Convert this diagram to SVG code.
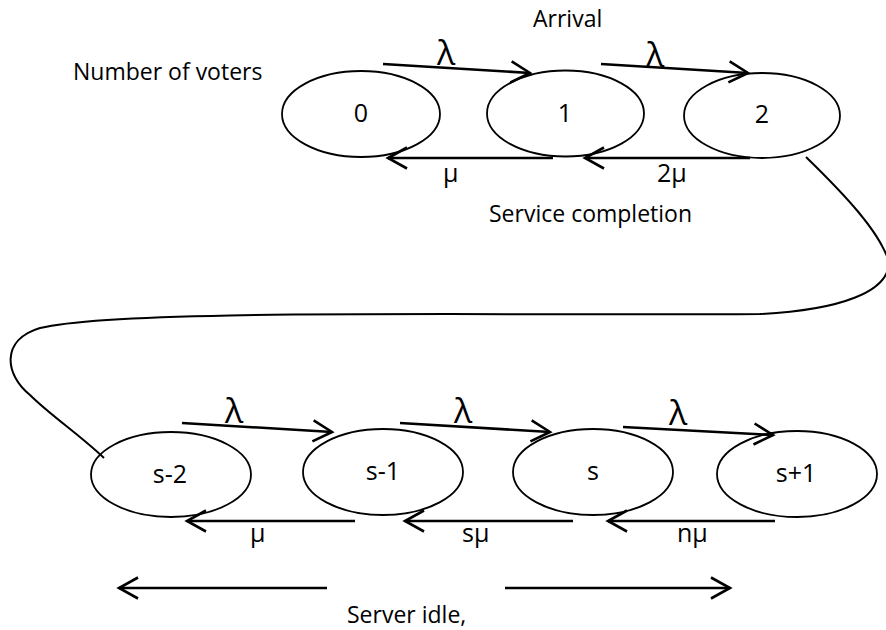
<svg xmlns="http://www.w3.org/2000/svg" width="886" height="630" viewBox="0 0 886 630">
  <style>
    .node ellipse { fill: #fff; stroke: #000; stroke-width: 1.8; }
    .node text { font-family: "Open Sans", "Liberation Sans", sans-serif; font-size: 25px; text-anchor: middle; fill: #000; }
    .edge { stroke: #000; stroke-width: 2.6; fill: none; marker-end: url(#open); }
    .link { stroke: #000; stroke-width: 2; fill: none; }
    .lbl { font-family: "Open Sans", "Liberation Sans", sans-serif; font-size: 23px; fill: #000; }
    .rate { font-family: "Open Sans", "Liberation Sans", sans-serif; font-size: 25px; fill: #000; }
    .lam { font-family: "Open Sans", "Liberation Sans", sans-serif; font-size: 34px; fill: #000; }
  </style>
  <defs>
    <marker id="open" viewBox="0 0 24 26" refX="21" refY="13" markerWidth="24" markerHeight="26" orient="auto" markerUnits="userSpaceOnUse" overflow="visible">
      <path d="M2,2.5 L21,13 L2,23.5" fill="none" stroke="#000" stroke-width="2.6"/>
    </marker>
  </defs>

  <rect width="886" height="630" fill="#fff"/>

  <!-- captions -->
  <text class="lbl" x="533" y="27">Arrival</text>
  <text class="lbl" x="73" y="80">Number of voters</text>
  <text class="lbl" x="489" y="222">Service completion</text>
  <text class="lbl" x="347" y="623">Server idle,</text>

  <!-- states, top row -->
  <g id="n0" class="node"><ellipse cx="361" cy="114" rx="79" ry="43"/><text x="361" y="122">0</text></g>
  <g id="n1" class="node"><ellipse cx="565.5" cy="113.5" rx="78.5" ry="43"/><text x="565" y="122">1</text></g>
  <g id="n2" class="node"><ellipse cx="762" cy="115.5" rx="78" ry="42.5"/><text x="762" y="123">2</text></g>

  <!-- states, bottom row -->
  <g id="ns2" class="node"><ellipse cx="171" cy="474.5" rx="80" ry="42.5"/><text x="170" y="483">s-2</text></g>
  <g id="ns1" class="node"><ellipse cx="383" cy="472" rx="80" ry="43"/><text x="383" y="480">s-1</text></g>
  <g id="ns" class="node"><ellipse cx="593" cy="472" rx="80" ry="43"/><text x="593" y="480">s</text></g>
  <g id="ns+1" class="node"><ellipse cx="797" cy="474" rx="80" ry="43"/><text x="796" y="482">s+1</text></g>

  <!-- transitions -->
  <g id="connectors">
    <!-- arrivals -->
    <line class="edge" x1="383" y1="64" x2="530" y2="73"/>
    <line class="edge" x1="601" y1="64" x2="748" y2="73"/>
    <line class="edge" x1="182" y1="423" x2="332" y2="432"/>
    <line class="edge" x1="400" y1="423" x2="550" y2="432"/>
    <line class="edge" x1="623" y1="427" x2="773" y2="435"/>
    <!-- departures -->
    <line class="edge" x1="553" y1="158" x2="388" y2="158"/>
    <line class="edge" x1="750" y1="158" x2="585" y2="158"/>
    <line class="edge" x1="355" y1="521" x2="187" y2="521"/>
    <line class="edge" x1="573" y1="521" x2="405" y2="521"/>
    <line class="edge" x1="775" y1="521" x2="608" y2="521"/>
    <!-- idle span arrows -->
    <line class="edge" x1="327" y1="588" x2="119" y2="588"/>
    <line class="edge" x1="505" y1="588" x2="730" y2="588"/>
    <!-- continuation from state 2 to state s-2 -->
    <path class="link" d="M806,157 C845,195 880,232 889,262 C889,292 840,310 760,314 C500,316 120,308 40,328 C0,340 5,375 30,395 C50,415 80,435 104,458"/>
  </g>

  <!-- rate labels -->
  <text class="lam" x="437" y="65">λ</text>
  <text class="lam" x="646" y="67">λ</text>
  <text class="lam" x="225" y="423">λ</text>
  <text class="lam" x="454" y="423">λ</text>
  <text class="lam" x="669" y="425">λ</text>
  <text class="rate" x="443" y="182">μ</text>
  <text class="rate" x="657" y="182">2μ</text>
  <text class="rate" x="250" y="542">μ</text>
  <text class="rate" x="462" y="542">sμ</text>
  <text class="rate" x="677" y="542">nμ</text>
</svg>
